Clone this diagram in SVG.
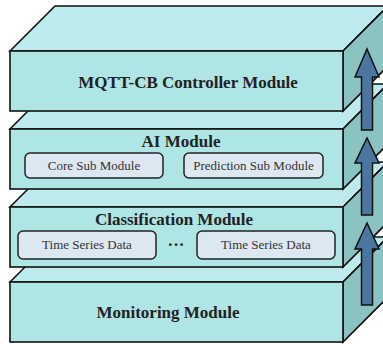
<svg xmlns="http://www.w3.org/2000/svg" width="383" height="344" viewBox="0 0 383 344">
<style>
.top{fill:#bdeaec;stroke:#111;stroke-width:1.6;stroke-linejoin:miter}
.side{fill:#8bc2c2;stroke:#111;stroke-width:1.6}
.front{fill:#afe5e5;stroke:#111;stroke-width:1.6}
.sub{fill:#dde7f1;stroke:#222;stroke-width:1.5}
.title{font-family:"Liberation Serif","Times New Roman",serif;font-weight:bold;font-size:17px;fill:#222;text-anchor:middle}
.lbl{font-family:"Liberation Serif","Times New Roman",serif;font-size:13px;fill:#333;text-anchor:middle}
.arrow{fill:#4a76a0;stroke:#111;stroke-width:1.5;stroke-linejoin:miter}
</style>
<rect width="383" height="344" fill="#fff"/>
<g id="monitoring">
<polygon class="top" points="10,282 55,237 388,237 343,282"/>
<polygon class="side" points="343,282 388,237 388,297 343,342"/>
<rect class="front" x="10" y="282" width="333" height="60"/>
<text class="title" x="168" y="318">Monitoring Module</text>
</g>
<g id="classification">
<polygon class="top" points="10,207 55,162 388,162 343,207"/>
<polygon class="side" points="343,207 388,162 388,222 343,267"/>
<rect class="front" x="10" y="207" width="333" height="60"/>
<text class="title" x="174" y="225">Classification Module</text>
<rect class="sub" x="18" y="231" width="138" height="28" rx="5"/>
<text class="lbl" x="87" y="249">Time Series Data</text>
<text class="title" x="176" y="250">···</text>
<rect class="sub" x="197" y="231" width="138" height="28" rx="5"/>
<text class="lbl" x="266" y="249">Time Series Data</text>
</g>
<g id="ai">
<polygon class="top" points="10,129 55,84 388,84 343,129"/>
<polygon class="side" points="343,129 388,84 388,144 343,189"/>
<rect class="front" x="10" y="129" width="333" height="60"/>
<text class="title" x="181" y="147">AI Module</text>
<rect class="sub" x="25" y="153" width="138" height="25" rx="5"/>
<text class="lbl" x="94" y="170">Core Sub Module</text>
<rect class="sub" x="184" y="153" width="139" height="25" rx="5"/>
<text class="lbl" x="253.5" y="170">Prediction Sub Module</text>
</g>
<g id="mqtt">
<polygon class="top" points="10,51 55,6 388,6 343,51"/>
<polygon class="side" points="343,51 388,6 388,66 343,111"/>
<rect class="front" x="10" y="51" width="333" height="60"/>
<text class="title" x="188" y="88">MQTT-CB Controller Module</text>
</g>
<g id="connectors">
<polygon class="arrow" points="367,49 379,77 372.5,77 372.5,130 361.5,130 361.5,77 355,77"/>
<polygon class="arrow" points="367,138 379,163 372.5,163 372.5,215 361.5,215 361.5,163 355,163"/>
<polygon class="arrow" points="367,223 379,249 372.5,249 372.5,305 361.5,305 361.5,249 355,249"/>
</g>
</svg>
